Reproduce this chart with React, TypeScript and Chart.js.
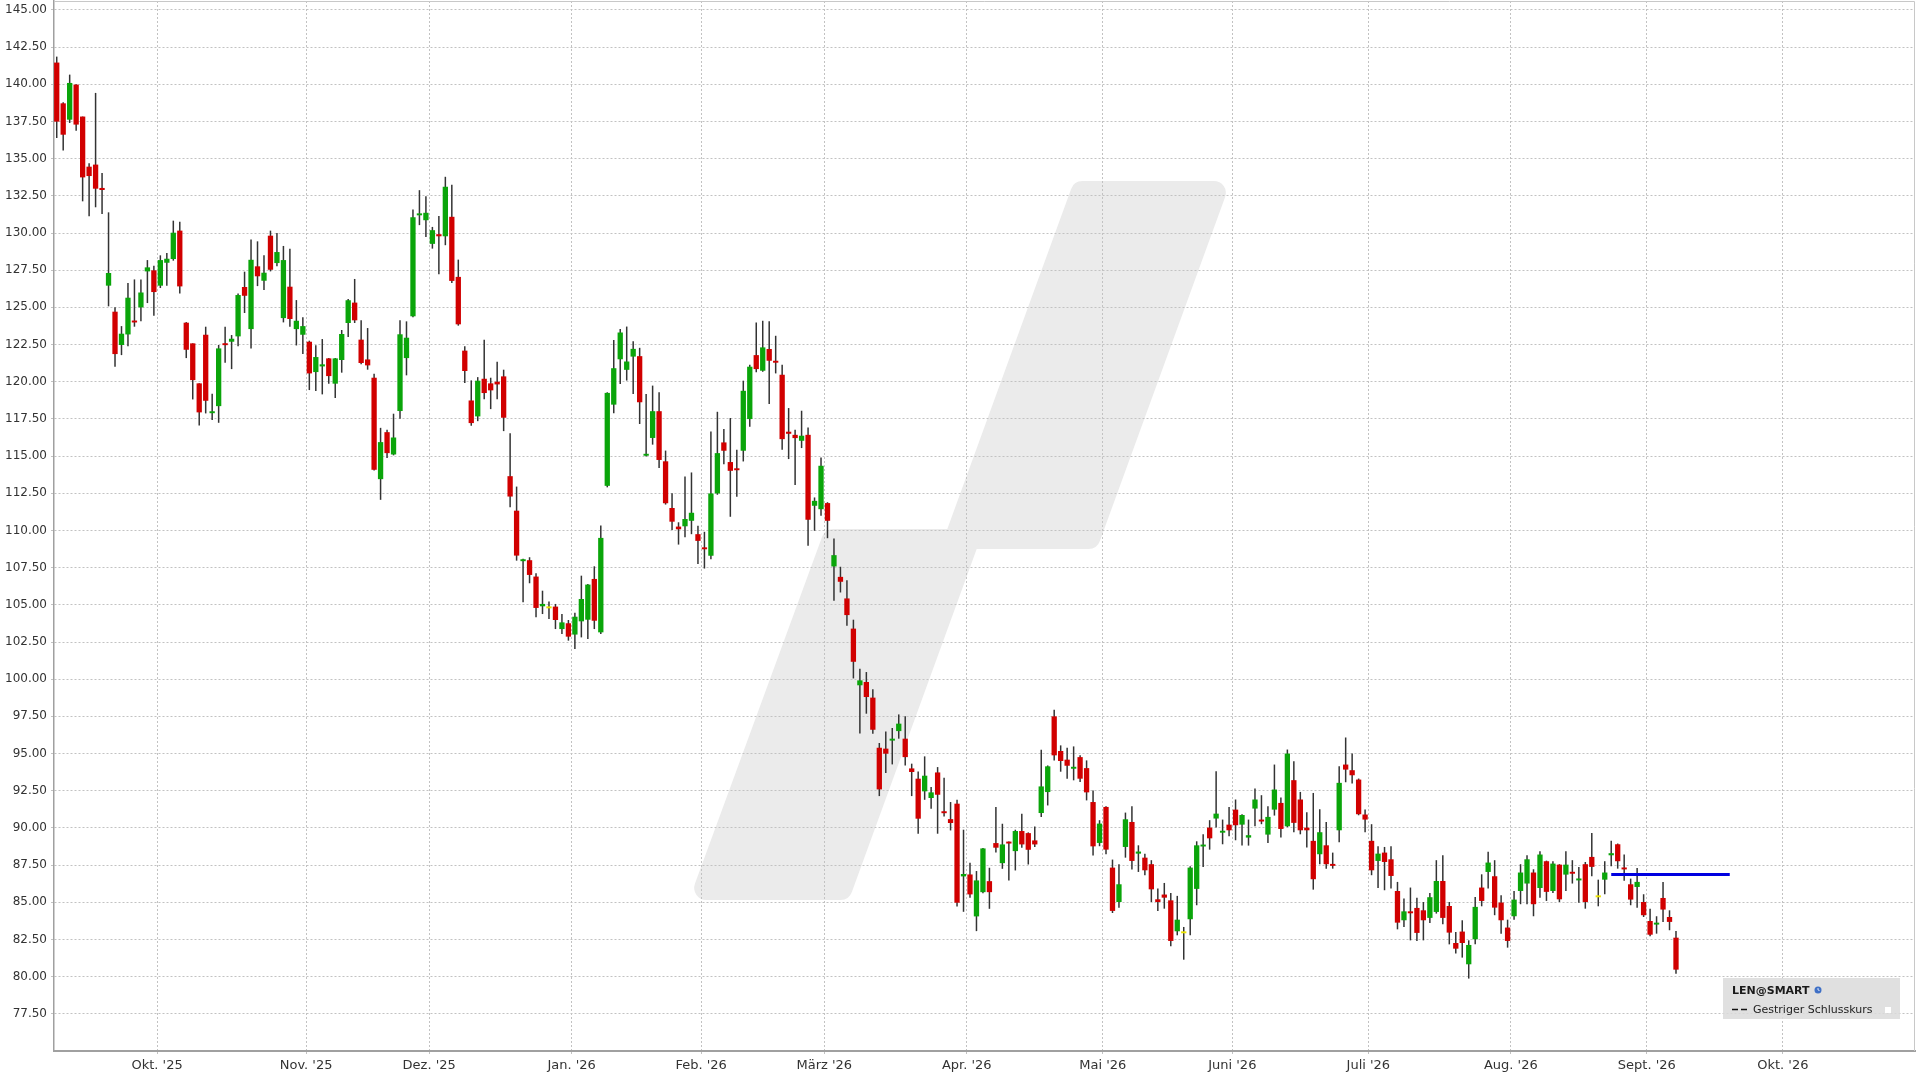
import { useEffect, useRef } from 'react';
import { Chart, registerables } from 'chart.js';

Chart.register(...registerables);

// ---- Data ----
const opens = [
  141.46,138.72,137.62,139.98,137.83,134.46,134.60,133.03,126.46,124.71,
  122.47,123.18,124.10,125.00,127.42,127.49,126.46,128.00,128.25,130.16,
  123.97,122.58,119.89,123.16,117.90,118.36,122.58,122.69,123.05,126.37,
  123.54,127.76,126.79,129.82,127.98,124.28,126.39,123.54,123.16,122.69,
  120.65,121.03,121.57,119.87,121.46,123.95,125.32,122.83,121.50,120.27,
  113.45,116.61,115.11,118.03,121.59,124.40,131.20,130.86,129.27,129.92,
  129.78,131.09,127.05,122.09,118.74,117.67,120.20,119.89,120.00,120.36,
  113.65,111.33,107.95,108.00,106.90,104.90,104.83,104.88,103.37,103.76,
  103.00,103.89,104.00,106.74,103.15,113.00,118.46,121.51,120.80,121.69,
  121.72,115.03,116.22,118.02,114.65,111.51,110.26,110.28,110.65,109.75,
  108.86,108.30,112.49,115.92,114.60,114.17,115.36,117.49,121.79,120.74,
  122.20,121.41,120.47,116.64,116.43,116.03,116.43,111.66,111.43,111.84,
  107.58,106.88,105.43,103.40,99.59,99.81,98.76,95.39,95.33,95.89,
  96.51,96.00,94.00,93.31,92.46,92.01,93.73,91.11,90.59,91.63,
  86.74,86.87,84.05,85.68,86.42,88.98,87.63,89.07,88.44,89.79,
  89.65,89.16,91.00,92.41,97.50,95.17,94.59,94.00,94.76,94.02,
  91.74,88.99,91.41,87.33,85.02,88.72,90.40,88.27,88.00,87.56,
  85.20,85.52,85.13,83.05,82.98,83.86,85.90,88.76,90.02,90.63,
  89.69,90.22,91.23,90.22,89.35,91.30,90.54,89.55,91.23,91.68,
  90.11,93.21,91.91,90.02,89.13,88.23,88.83,87.56,89.84,94.26,
  93.88,93.25,90.90,89.13,87.78,88.34,87.89,85.76,83.79,84.39,
  84.62,84.46,83.95,84.35,86.43,84.75,82.26,83.03,80.83,82.51,
  85.99,87.04,86.75,84.98,83.30,84.06,85.76,86.26,87.00,85.96,
  87.76,85.76,87.53,86.86,87.04,86.48,87.56,88.05,85.40,86.52,
  88.16,88.90,87.33,86.21,86.03,85.02,83.74,83.52,85.29,84.01,
  82.62,
];
const highs = [
  141.86,138.79,140.65,140.00,137.83,134.69,139.42,134.04,131.39,125.00,
  123.74,126.64,126.88,126.88,128.18,127.80,128.50,128.65,130.83,130.76,
  124.01,122.58,119.89,123.70,119.20,122.47,123.70,123.14,125.94,127.40,
  129.57,129.44,128.50,130.16,130.00,129.13,128.95,125.49,124.33,122.76,
  122.45,122.87,121.60,121.60,123.48,125.57,126.91,124.13,123.61,120.54,
  116.90,116.77,117.85,124.13,124.06,131.58,132.88,132.48,130.41,131.15,
  133.78,133.24,128.21,122.38,120.09,120.31,122.83,120.27,121.35,120.81,
  116.54,112.95,108.10,108.20,107.12,105.95,105.23,105.06,104.38,103.98,
  104.47,106.96,106.40,107.59,110.33,119.29,122.81,123.55,123.71,122.72,
  122.28,119.18,119.74,119.29,115.37,112.50,110.55,113.62,113.90,110.31,
  109.91,116.66,117.98,116.82,117.56,115.43,120.07,121.14,123.99,124.10,
  124.06,123.09,121.14,118.23,116.77,118.05,116.93,112.22,114.91,111.90,
  109.46,107.56,106.66,104.00,100.70,100.48,99.32,95.71,96.49,96.72,
  97.63,97.50,94.32,93.80,94.81,92.75,94.09,93.37,91.74,91.89,
  89.88,87.66,87.10,88.65,87.32,91.40,90.28,89.09,89.88,90.95,
  89.70,90.10,95.26,94.20,97.95,95.55,95.39,95.48,94.88,94.54,
  92.52,90.52,91.46,87.87,87.56,91.03,91.46,88.83,88.27,87.83,
  85.92,86.30,85.63,85.43,83.34,87.42,89.10,89.57,90.52,93.81,
  90.56,91.41,91.91,90.92,90.56,92.65,92.20,91.46,94.26,92.04,
  95.27,94.48,92.42,91.05,92.35,91.26,90.40,88.34,94.15,96.08,
  95.00,93.32,91.23,90.25,88.77,88.72,88.77,86.37,85.25,85.99,
  85.31,85.02,85.63,87.83,88.16,85.02,83.00,83.79,82.44,85.36,
  86.88,88.39,87.83,85.47,83.83,85.76,87.56,88.16,87.22,88.43,
  87.80,87.76,87.56,88.43,87.83,87.38,87.71,89.66,86.52,87.76,
  89.13,88.95,88.21,86.59,87.31,85.54,84.57,84.06,86.37,84.46,
  83.07,
];
const lows = [
  136.39,135.54,137.40,136.88,132.13,131.12,131.73,131.28,125.07,121.01,
  121.79,122.38,123.70,124.06,125.29,124.44,126.30,126.46,128.14,125.94,
  121.59,118.81,117.06,117.87,117.42,117.24,121.28,120.85,122.38,124.62,
  122.24,126.43,126.17,127.42,127.76,123.99,123.70,122.44,121.86,119.44,
  119.37,119.15,119.87,118.90,120.61,123.00,123.95,121.17,120.81,114.03,
  112.06,114.88,115.05,117.51,120.43,124.33,130.53,129.74,128.95,127.23,
  129.18,126.64,123.77,119.91,117.04,117.35,118.83,118.16,118.83,116.68,
  111.56,107.97,105.17,106.45,104.16,104.38,104.04,103.37,103.04,102.59,
  102.03,102.81,102.70,103.37,103.04,112.90,117.88,119.85,120.08,119.18,
  117.16,114.97,115.77,114.20,111.74,110.03,109.05,109.54,109.75,107.74,
  107.44,108.07,112.40,114.46,110.92,112.26,114.64,116.97,120.63,120.67,
  118.50,120.56,115.43,114.80,113.05,115.54,108.97,109.98,110.99,109.48,
  105.27,105.83,103.59,100.05,96.35,97.68,96.33,92.14,93.69,94.27,
  96.00,94.20,92.14,89.61,91.89,91.29,89.61,90.77,89.83,84.72,
  84.36,85.30,83.06,85.60,84.56,88.35,87.25,86.47,87.14,88.67,
  87.54,88.71,90.73,91.51,94.54,93.78,93.31,93.20,93.08,91.85,
  88.15,88.77,88.23,84.28,84.64,88.00,87.20,87.04,86.82,85.02,
  84.42,84.57,82.04,82.78,81.14,82.78,84.80,87.38,88.54,90.02,
  88.90,89.44,89.17,88.81,88.81,90.11,90.25,88.99,90.83,89.35,
  90.05,89.71,89.57,88.68,85.85,87.56,87.26,87.26,89.04,93.07,
  92.98,90.85,89.71,86.82,85.96,85.81,85.92,83.18,83.34,82.44,
  82.40,82.44,83.61,84.24,83.52,82.17,81.55,81.28,79.87,82.17,
  84.73,85.92,84.13,82.89,81.95,83.83,84.87,84.87,84.06,85.31,
  85.09,85.63,85.02,85.76,86.26,84.96,84.57,86.75,84.73,85.54,
  87.42,87.26,86.44,84.80,84.64,84.01,82.71,82.89,83.68,83.12,
  80.20,
];
const closes = [
  137.49,136.61,140.09,137.29,133.74,133.83,132.98,132.89,127.31,121.86,
  123.23,125.65,124.00,126.00,127.69,126.03,128.18,128.27,130.02,126.41,
  122.15,120.11,117.94,118.72,118.00,122.24,122.47,122.89,125.83,125.78,
  128.20,127.09,127.33,127.53,128.72,128.18,124.22,124.10,123.74,120.56,
  121.66,121.17,120.38,121.57,123.21,125.48,124.13,121.26,121.10,114.08,
  115.94,115.20,116.25,123.19,122.96,131.06,131.31,131.36,130.19,129.78,
  133.11,126.78,123.86,120.72,117.22,120.07,119.24,119.42,119.82,117.58,
  112.28,108.31,108.05,107.01,104.79,105.06,104.83,103.98,103.82,102.86,
  104.20,105.39,106.36,103.93,109.50,119.25,120.91,123.31,121.36,122.21,
  118.62,115.15,118.02,114.74,111.83,110.59,110.08,110.77,111.19,109.30,
  108.74,112.49,115.20,115.36,114.01,114.06,119.39,121.01,120.85,122.31,
  121.41,121.28,116.14,116.50,116.21,116.37,110.72,111.99,114.35,110.65,
  108.34,106.55,104.31,101.17,99.92,98.80,96.60,92.59,94.99,95.98,
  97.01,94.76,93.76,90.62,93.51,92.39,92.23,91.00,90.33,84.97,
  86.90,85.53,86.47,88.62,85.68,88.67,88.89,88.96,89.79,88.89,
  88.53,88.89,92.79,94.14,94.88,94.50,94.18,94.09,93.31,92.39,
  88.76,90.29,88.54,84.42,86.21,90.58,87.78,88.41,87.15,85.87,
  85.02,85.31,82.40,83.83,82.98,87.33,88.83,88.87,89.30,90.96,
  89.80,89.84,90.18,90.87,89.51,91.91,90.45,90.74,92.58,89.93,
  95.00,90.34,89.84,89.84,86.55,89.71,87.56,87.47,93.03,93.92,
  93.54,90.92,90.56,87.15,88.27,87.71,86.77,83.63,84.39,84.26,
  82.94,83.79,85.34,86.43,83.95,82.96,81.88,82.26,82.13,84.69,
  85.09,87.67,84.64,83.79,82.40,85.18,87.00,87.89,84.87,88.21,
  85.70,87.60,85.20,87.53,86.93,86.59,85.02,87.38,85.40,87.00,
  88.30,87.76,87.22,85.18,86.37,84.13,82.82,83.61,84.51,83.68,
  80.47,
];

// first trading day (candle index) of each month, and their labels
const monthStartIdx = [16, 39, 58, 80, 100, 119, 141, 162, 182, 203, 225, 246, 267];
const monthLabels = ["Okt. '25", "Nov. '25", "Dez. '25", "Jan. '26", "Feb. '26", "März '26", "Apr. '26", "Mai '26", "Juni '26", "Juli '26", "Aug. '26", "Sept. '26", "Okt. '26"];

const yTickValues = [77.5, 80, 82.5, 85, 87.5, 90, 92.5, 95, 97.5, 100, 102.5, 105, 107.5, 110, 112.5, 115, 117.5, 120, 122.5, 125, 127.5, 130, 132.5, 135, 137.5, 140, 142.5, 145];

// "Gestriger Schlusskurs" level and its span (candle index units)
const prevCloseValue = 86.86;
const prevCloseSpan = [240, 258.3];

const X_MIN = -0.42;
const X_MAX = 286.9;
const Y_MIN = 75;
const Y_MAX = 145.6;

const RED = '#d10000';
const GREEN = '#0aa50a';
const YELLOW = '#ece400';
const WICK = '#333333';

function roundPoly(ctx: CanvasRenderingContext2D, pts: number[][], r: number) {
  const n = pts.length;
  ctx.beginPath();
  for (let i = 0; i < n; i++) {
    const p0 = pts[(i - 1 + n) % n];
    const p1 = pts[i];
    const p2 = pts[(i + 1) % n];
    if (i === 0) ctx.moveTo((p0[0] + p1[0]) / 2, (p0[1] + p1[1]) / 2);
    ctx.arcTo(p1[0], p1[1], p2[0], p2[1], r);
  }
  ctx.closePath();
}

const decorPlugin = {
  id: 'decor',
  beforeDraw(chart: any) {
    const ctx: CanvasRenderingContext2D = chart.ctx;
    ctx.save();
    ctx.fillStyle = '#ffffff';
    ctx.fillRect(0, 0, chart.width, chart.height);
    // watermark logo
    ctx.fillStyle = '#ebebeb';
    roundPoly(ctx, [[1074, 181], [1231, 181], [1097, 549], [940, 549]], 12);
    ctx.fill();
    roundPoly(ctx, [[825, 529], [984, 529], [849, 900], [689, 900]], 12);
    ctx.fill();
    ctx.restore();
  },
  afterDraw(chart: any) {
    const ctx: CanvasRenderingContext2D = chart.ctx;
    const a = chart.chartArea;
    ctx.save();
    // top / right frame
    ctx.strokeStyle = '#c8c8c8';
    ctx.lineWidth = 1;
    ctx.beginPath();
    ctx.moveTo(a.left, a.top + 0.5);
    ctx.lineTo(a.right - 0.5, a.top + 0.5);
    ctx.lineTo(a.right - 0.5, a.bottom);
    ctx.stroke();
    // legend box
    ctx.fillStyle = 'rgba(218,218,218,0.85)';
    ctx.fillRect(1723, 978, 177, 41);
    ctx.fillStyle = '#1a1a1a';
    ctx.font = 'bold 11px "DejaVu Sans"';
    ctx.textBaseline = 'alphabetic';
    ctx.textAlign = 'left';
    ctx.fillText('LEN@SMART', 1732, 994);
    ctx.beginPath();
    ctx.arc(1818, 990, 3.5, 0, Math.PI * 2);
    ctx.fillStyle = '#3f70c6';
    ctx.fill();
    ctx.strokeStyle = '#ffffff';
    ctx.lineWidth = 0.8;
    ctx.beginPath();
    ctx.moveTo(1818, 988);
    ctx.lineTo(1818, 990);
    ctx.lineTo(1819.5, 990.5);
    ctx.stroke();
    ctx.strokeStyle = '#111111';
    ctx.lineWidth = 1.5;
    ctx.setLineDash([6, 3]);
    ctx.beginPath();
    ctx.moveTo(1732, 1009.5);
    ctx.lineTo(1749, 1009.5);
    ctx.stroke();
    ctx.setLineDash([]);
    ctx.fillStyle = '#222222';
    ctx.font = '11px "DejaVu Sans"';
    ctx.fillText('Gestriger Schlusskurs', 1753, 1013);
    ctx.fillStyle = '#ffffff';
    ctx.fillRect(1885, 1007, 6, 6);
    ctx.restore();
  },
};

export default function App() {
  const ref = useRef<HTMLCanvasElement | null>(null);

  useEffect(() => {
    document.body.style.margin = '0';
    if (!ref.current) return;
    Chart.defaults.font.family = '"DejaVu Sans"';

    const idx = opens.map((_, i) => i);
    const wickData = idx.map((i) => ({ x: i, y: [lows[i], highs[i]] }));
    const bodyData = idx.map((i) => {
      let lo = Math.min(opens[i], closes[i]);
      let hi = Math.max(opens[i], closes[i]);
      if (hi - lo < 0.13) {
        const m = (hi + lo) / 2;
        lo = m - 0.065;
        hi = m + 0.065;
      }
      return { x: i, y: [lo, hi] };
    });
    const bodyColors = idx.map((i) =>
      closes[i] > opens[i] ? GREEN : closes[i] < opens[i] ? RED : YELLOW
    );
    const monthTicks = monthStartIdx.map((m) => m - 0.5);

    const chart = new Chart(ref.current, {
      type: 'bar',
      data: {
        datasets: [
          {
            type: 'line',
            data: [
              { x: prevCloseSpan[0], y: prevCloseValue },
              { x: prevCloseSpan[1], y: prevCloseValue },
            ],
            borderColor: '#0000e0',
            borderWidth: 3,
            pointRadius: 0,
            order: 0,
          } as any,
          {
            type: 'bar',
            data: bodyData as any,
            backgroundColor: bodyColors,
            barThickness: 5.3,
            grouped: false,
            inflateAmount: 0,
            borderWidth: 0,
            order: 1,
          } as any,
          {
            type: 'bar',
            data: wickData as any,
            backgroundColor: WICK,
            barThickness: 1.5,
            grouped: false,
            inflateAmount: 0,
            borderWidth: 0,
            order: 2,
          } as any,
        ],
      },
      options: {
        responsive: false,
        animation: false,
        devicePixelRatio: 1,
        layout: { padding: { top: 1, right: 5, left: 0, bottom: 0 } },
        plugins: {
          legend: { display: false },
          tooltip: { enabled: false },
        },
        scales: {
          x: {
            type: 'linear',
            min: X_MIN,
            max: X_MAX,
            offset: false,
            afterBuildTicks: (s: any) => {
              s.ticks = monthTicks.map((v) => ({ value: v }));
            },
            afterFit: (s: any) => {
              s.height = 29;
              s.paddingLeft = 0;
              s.paddingRight = 0;
            },
            grid: {
              offset: false,
              color: '#c2c2c2',
              lineWidth: 1,
              tickLength: 4,
              tickColor: '#c2c2c2',
              tickBorderDash: [2, 2],
            },
            border: { display: true, color: '#a0a0a0', width: 2, dash: [2, 2] },
            ticks: {
              autoSkip: false,
              maxRotation: 0,
              padding: 3,
              color: '#333333',
              font: { family: '"DejaVu Sans"', size: 13 },
              callback: (_v: any, i: number) => monthLabels[i],
            },
          },
          y: {
            type: 'linear',
            min: Y_MIN,
            max: Y_MAX,
            position: 'left',
            afterBuildTicks: (s: any) => {
              s.ticks = yTickValues.map((v) => ({ value: v }));
            },
            afterFit: (s: any) => {
              s.width = 54;
              s.paddingTop = 0;
              s.paddingBottom = 0;
            },
            grid: {
              color: '#c2c2c2',
              lineWidth: 1,
              tickLength: 3,
              tickColor: '#c2c2c2',
              tickBorderDash: [2, 2],
            },
            border: { display: true, color: '#a0a0a0', width: 1.5, dash: [2, 2] },
            ticks: {
              padding: 4,
              color: '#333333',
              font: { family: '"DejaVu Sans"', size: 12 },
              callback: (v: any) => Number(v).toFixed(2),
            },
          },
        },
      },
      plugins: [decorPlugin],
    } as any);

    return () => chart.destroy();
  }, []);

  return (
    <div style={{ position: 'fixed', left: 0, top: 0, width: 1920, height: 1080, background: '#fff' }}>
      <canvas ref={ref} width={1920} height={1080} style={{ display: 'block', width: 1920, height: 1080 }} />
    </div>
  );
}
